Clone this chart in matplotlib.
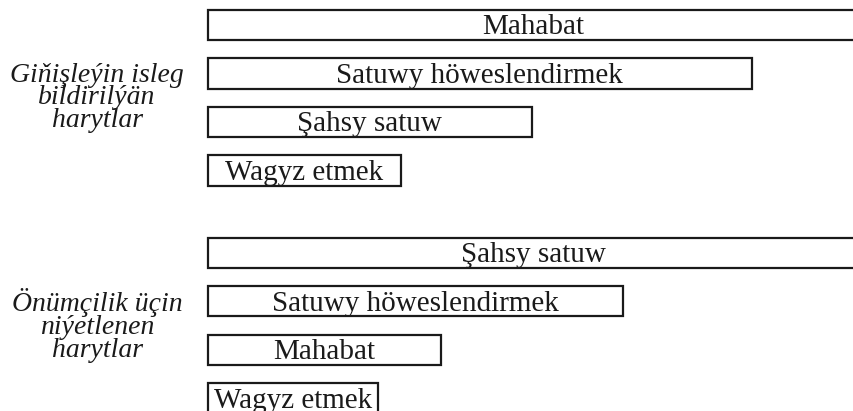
import matplotlib
matplotlib.use("Agg")
import matplotlib.pyplot as plt

# Data (relative importance, top bar of each group = 100)
group_labels = ["Giňişleýin isleg\nbildirilýän\nharytlar",
                "Önümçilik üçin\nniýetlenen\nharytlar"]
consumer_tools = ["Mahabat", "Satuwy höweslendirmek", "Şahsy satuw", "Wagyz etmek"]
consumer_values = [100, 83.5, 49.7, 29.6]
industrial_tools = ["Şahsy satuw", "Satuwy höweslendirmek", "Mahabat", "Wagyz etmek"]
industrial_values = [100, 63.8, 35.8, 26.1]

consumer_pos = [0, 1, 2, 3]
industrial_pos = [4.7, 5.7, 6.7, 7.7]

plt.rcParams['font.family'] = ['Liberation Serif', 'DejaVu Serif']

fig = plt.figure(figsize=(8.54, 4.11), dpi=100)
ax = fig.add_axes([0, 0, 1, 1])

bar_h = 0.62
for pos, vals, labels in [(consumer_pos, consumer_values, consumer_tools),
                          (industrial_pos, industrial_values, industrial_tools)]:
    ax.barh(pos, vals, height=bar_h, color='white', edgecolor='#1a1a1a',
            linewidth=1.6)
    for p, v, lab in zip(pos, vals, labels):
        ax.text(v / 2, p + 0.05, lab, ha='center', va='center', fontsize=21,
                color='#1a1a1a')

group_centers = [sum(consumer_pos[1:3]) / 2, sum(industrial_pos[1:3]) / 2]
for gc, gl in zip(group_centers, group_labels):
    ax.text(-17.05, gc, gl, ha='center', va='center', fontsize=20,
            style='italic', linespacing=0.88, color='#1a1a1a')

ax.set_xlim(-31.95, 99.23)
ax.set_ylim(7.959, -0.515)
ax.axis('off')

fig.savefig("out.png", dpi=100)
